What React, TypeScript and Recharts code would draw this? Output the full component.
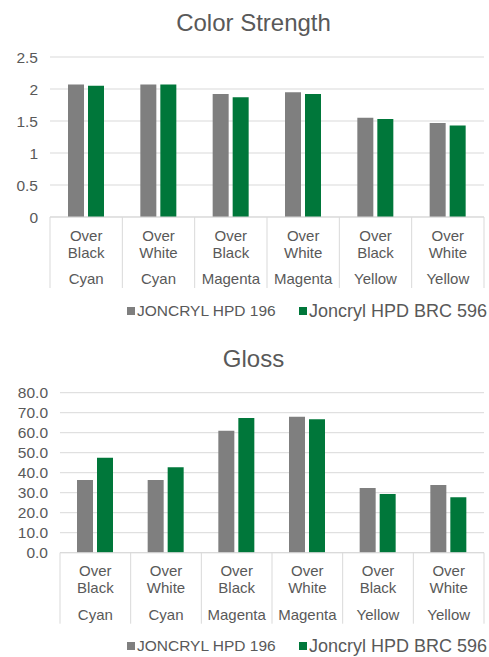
import React from "react";
import { BarChart, Bar, XAxis, YAxis, CartesianGrid } from "recharts";

const substrates = ["Over Black", "Over White", "Over Black", "Over White", "Over Black", "Over White"];
const inks = ["Cyan", "Cyan", "Magenta", "Magenta", "Yellow", "Yellow"];
const seriesNames = ["JONCRYL HPD 196", "Joncryl HPD BRC 596"];

const strength196 = [2.07, 2.07, 1.92, 1.95, 1.55, 1.47];
const strength596 = [2.05, 2.07, 1.87, 1.92, 1.53, 1.43];
const strengthTicks = [0, 0.5, 1, 1.5, 2, 2.5];

const gloss196 = [36.3, 36.3, 61.0, 68.0, 32.3, 33.8];
const gloss596 = [47.5, 42.7, 67.3, 66.7, 29.3, 27.7];
const glossTicks = [0, 10, 20, 30, 40, 50, 60, 70, 80];

const GRAY = "#7f7f7f";
const GREEN = "#00773a";
const TEXT = "#595959";
const LINE = "#d9d9d9";
const FONT = "'Liberation Sans', Arial, sans-serif";

const W = 489;
const RIGHT = 5;
const AXIS_H = 72;

type PanelProps = {
  title: string;
  top: number;
  height: number;
  titleY: number;
  plotTop: number;
  plotBottom: number;
  yWidth: number;
  ticks: number[];
  fmt: (v: number) => string;
  a: number[];
  b: number[];
  legendY: number;
};

function Panel(p: PanelProps) {
  const data = substrates.map((s, i) => ({ id: i, a: p.a[i], b: p.b[i] }));
  const band = (W - p.yWidth - RIGHT) / substrates.length;

  const CatTick = (props: any) => {
    const { x, y, index } = props;
    const [l1, l2] = substrates[index].split(" ");
    const left = x - band / 2;
    const right = x + band / 2;
    return (
      <g>
        <line x1={left} y1={y} x2={left} y2={y + 71} stroke={LINE} />
        {index === substrates.length - 1 && (
          <line x1={right} y1={y} x2={right} y2={y + 71} stroke={LINE} />
        )}
        <text textAnchor="middle" fill={TEXT} fontSize={15} fontFamily={FONT}>
          <tspan x={x} y={y + 23.5}>{l1}</tspan>
          <tspan x={x} y={y + 40.5}>{l2}</tspan>
          <tspan x={x} y={y + 67}>{inks[index]}</tspan>
        </text>
      </g>
    );
  };

  return (
    <div style={{ position: "absolute", left: 0, top: p.top, width: W, height: p.height }}>
      <div
        style={{
          position: "absolute",
          left: 253.5,
          top: p.titleY,
          transform: "translate(-50%, -50%)",
          fontFamily: FONT,
          fontSize: 24,
          color: TEXT,
          whiteSpace: "nowrap",
        }}
      >
        {p.title}
      </div>
      <BarChart
        width={W}
        height={p.height}
        data={data}
        margin={{ top: p.plotTop, right: RIGHT, left: 0, bottom: p.height - p.plotBottom - AXIS_H }}
        barSize={16}
        barGap={4}
      >
        <CartesianGrid vertical={false} stroke={LINE} />
        <XAxis
          dataKey="id"
          height={AXIS_H}
          tickLine={false}
          tickSize={0}
          tickMargin={0}
          axisLine={{ stroke: LINE }}
          tick={<CatTick />}
          interval={0}
        />
        <YAxis
          width={p.yWidth}
          domain={[p.ticks[0], p.ticks[p.ticks.length - 1]]}
          ticks={p.ticks}
          interval={0}
          tickFormatter={p.fmt}
          axisLine={false}
          tickLine={false}
          tickSize={0}
          tickMargin={12}
          tick={{ fill: TEXT, fontSize: 15.5, fontFamily: FONT }}
        />
        <Bar dataKey="a" name={seriesNames[0]} fill={GRAY} isAnimationActive={false} />
        <Bar dataKey="b" name={seriesNames[1]} fill={GREEN} isAnimationActive={false} />
      </BarChart>
      <div style={{ position: "absolute", top: p.legendY, left: 0, fontFamily: FONT, color: TEXT }}>
        <div style={{ position: "absolute", left: 127, top: -4, width: 8, height: 8, background: GRAY }} />
        <div
          style={{ position: "absolute", left: 137, top: 0, transform: "translateY(-50%)", fontSize: 15.5, whiteSpace: "nowrap" }}
        >
          {seriesNames[0]}
        </div>
        <div style={{ position: "absolute", left: 299, top: -4, width: 8, height: 8, background: GREEN }} />
        <div
          style={{ position: "absolute", left: 309, top: 0, transform: "translateY(-50%)", fontSize: 18, whiteSpace: "nowrap" }}
        >
          {seriesNames[1]}
        </div>
      </div>
    </div>
  );
}

export default function App() {
  return (
    <div style={{ position: "absolute", left: 0, top: 0, width: W, height: 657, background: "#fff" }}>
      <Panel
        title="Color Strength"
        top={0}
        height={330}
        titleY={22.5}
        plotTop={57}
        plotBottom={217}
        yWidth={50}
        ticks={strengthTicks}
        fmt={(v) => String(v)}
        a={strength196}
        b={strength596}
        legendY={311}
      />
      <Panel
        title="Gloss"
        top={330}
        height={327}
        titleY={29}
        plotTop={62.7}
        plotBottom={222.7}
        yWidth={60}
        ticks={glossTicks}
        fmt={(v) => v.toFixed(1)}
        a={gloss196}
        b={gloss596}
        legendY={316}
      />
    </div>
  );
}
